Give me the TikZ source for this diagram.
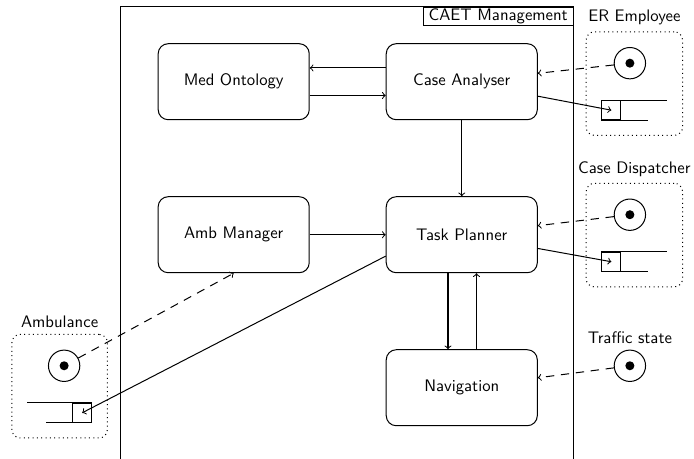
\documentclass[tikz,border=0pt]{standalone}
\usetikzlibrary{positioning,fit}
\begin{document}
\begin{tikzpicture}[font=\sffamily, line width=0.6pt,
	block/.style={draw, rounded corners=6pt, minimum width=3.18cm, minimum height=1.6cm},
	actor/.style={draw, circle, minimum size=0.66cm, inner sep=0pt},
	port/.style={draw, minimum size=0.4cm, inner sep=0pt},
	group/.style={draw, dotted, rounded corners=5pt, inner sep=0.32cm},
	flow/.style={->, dash pattern=on 5pt off 4pt}]
	\useasboundingbox (0,0) rectangle (14.61,9.66);
	\draw (2.53,0) -- (2.53,9.52) -- (12.08,9.52) -- (12.08,0);
	\node [draw, anchor=north east, inner ysep=1pt] (caet) at (12.08,9.52) {CAET Management};
	\node [block] (medontology) at (4.92,7.94) {Med Ontology};
	\node [block, right=1.6cm of medontology] (caseanalyser) {Case Analyser};
	\node [block, below=1.6cm of medontology] (ambmanager) {Amb Manager};
	\node [block, below=1.6cm of caseanalyser] (taskplanner) {Task Planner};
	\node [block, below=1.6cm of taskplanner] (navigation) {Navigation};
	\foreach \name/\y in {eremployee/8.33, casedispatcher/5.14, traffic/1.96} {
		\node [actor] (\name) at (13.26,\y) {};
		\fill (\name) circle (0.095);
	}
	\foreach \name/\y in {erport/7.34, cdport/4.15} {
		\node [port] (\name) at (12.87,\y) {};
		\draw (\name.north west) -- ++(1.39,0) coordinate (\name-top);
		\draw (\name.south west) -- ++(0.99,0);
	}
	\node [actor] (ambulance) at (1.35,1.96) {};
	\fill (ambulance) circle (0.095);
	\node [port] (ambport) at (1.73,0.97) {};
	\draw (ambport.north east) -- ++(-1.37,0) coordinate (ambport-top);
	\draw (ambport.south east) -- ++(-0.97,0);
	\node [group, fit=(eremployee)(erport)(erport-top), label=above:ER Employee] (ergroup) {};
	\node [group, fit=(casedispatcher)(cdport)(cdport-top), label=above:Case Dispatcher] (cdgroup) {};
	\node [group, fit=(ambulance)(ambport)(ambport-top), label=above:Ambulance] (ambgroup) {};
	\node [above] (trafficlabel) at (traffic.north) {Traffic state};
	\draw [->] ([yshift=0.29cm]caseanalyser.west) -- ([yshift=0.29cm]medontology.east);
	\draw [->] ([yshift=-0.29cm]medontology.east) -- ([yshift=-0.29cm]caseanalyser.west);
	\draw [->] (caseanalyser) -- (taskplanner);
	\draw [->] (ambmanager) -- (taskplanner);
	\draw [->] ([xshift=-0.29cm]taskplanner.south) -- ([xshift=-0.29cm]navigation.north);
	\draw [->] ([xshift=0.31cm]navigation.north) -- ([xshift=0.31cm]taskplanner.south);
	\draw [flow] (eremployee) -- (caseanalyser);
	\draw [->] (caseanalyser) -- (erport.center);
	\draw [flow] (casedispatcher) -- (taskplanner);
	\draw [->] (taskplanner) -- (cdport.center);
	\draw [flow] (traffic) -- (navigation);
	\draw [flow] (ambulance) -- (ambmanager.south);
	\draw [->] ([yshift=-0.45cm]taskplanner.west) -- (ambport.center);
\end{tikzpicture}
\end{document}
